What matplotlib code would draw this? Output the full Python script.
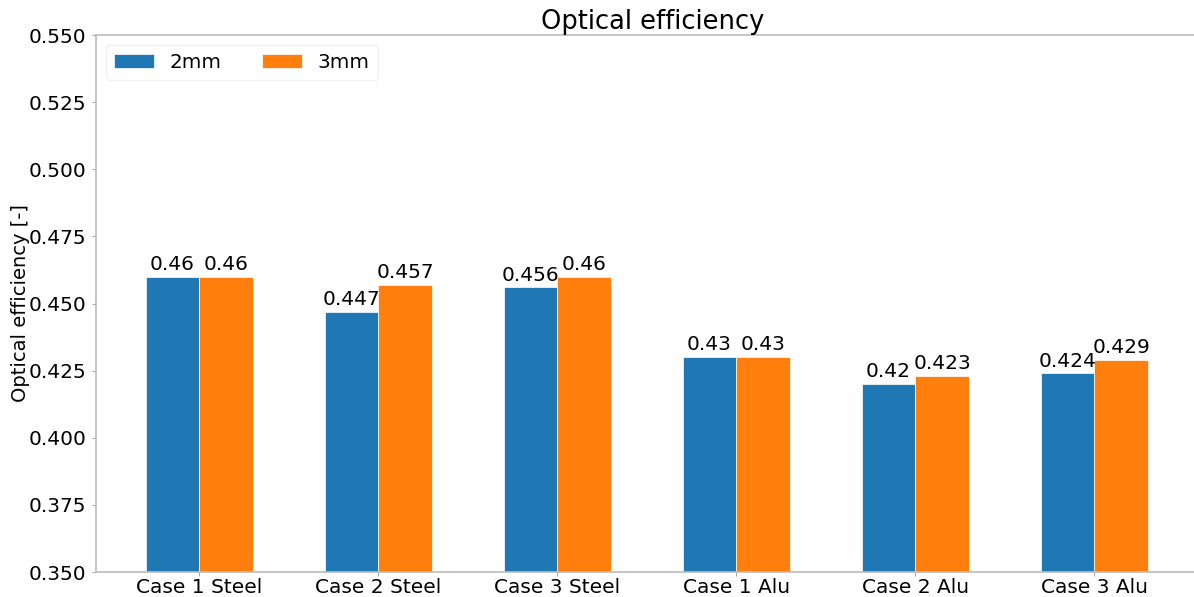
import matplotlib
matplotlib.use("Agg")
import matplotlib.pyplot as plt
import numpy as np

categories = ["Case 1 Steel", "Case 2 Steel", "Case 3 Steel", "Case 1 Alu", "Case 2 Alu", "Case 3 Alu"]
vals_2mm = [0.46, 0.447, 0.456, 0.43, 0.42, 0.424]
vals_3mm = [0.46, 0.457, 0.46, 0.43, 0.423, 0.429]
labels_2mm = ["0.46", "0.447", "0.456", "0.43", "0.42", "0.424"]
labels_3mm = ["0.46", "0.457", "0.46", "0.43", "0.423", "0.429"]
yticks = [0.350, 0.375, 0.400, 0.425, 0.450, 0.475, 0.500, 0.525, 0.550]

fig = plt.figure(figsize=(11.94, 5.97), dpi=100)
ax = fig.add_axes([95.5/1194, 1 - 572/597, (1210 - 95.5)/1194, (572 - 35)/597])

x = np.arange(len(categories))
w = 0.3
b1 = ax.bar(x - w/2, vals_2mm, w, color="#1f77b4", edgecolor="white", linewidth=0.5, label="2mm")
b2 = ax.bar(x + w/2, vals_3mm, w, color="#ff7f0e", edgecolor="white", linewidth=0.5, label="3mm")

for rect, lab in zip(b1, labels_2mm):
    ax.annotate(lab, (rect.get_x() + rect.get_width()/2, rect.get_height()), xytext=(0, 2),
                textcoords="offset points", ha="center", va="bottom", fontsize=14.5)
for rect, lab in zip(b2, labels_3mm):
    ax.annotate(lab, (rect.get_x() + rect.get_width()/2, rect.get_height()), xytext=(0, 2),
                textcoords="offset points", ha="center", va="bottom", fontsize=14.5)

ax.set_ylim(0.35, 0.55)
ax.set_xlim(-0.58, 5.646)
ax.set_yticks(yticks)
ax.set_yticklabels([f"{t:.3f}" for t in yticks])
ax.set_xticks(x)
ax.set_xticklabels(categories)
ax.tick_params(labelsize=14.5, color="#aaaaaa", length=3)
ax.tick_params(axis="x", pad=1.5)
for s in ax.spines.values():
    s.set_color("#bbbbbb")
    s.set_linewidth(1.2)
ax.set_ylabel("Optical efficiency [-]", fontsize=14)
ax.yaxis.set_label_coords(-0.0585, 0.5)
ax.set_title("Optical efficiency", fontsize=18.5, pad=3)
ax.legend(loc="upper left", ncol=2, fontsize=14.4, frameon=True, edgecolor="#eeeeee",
          handlelength=2.0, columnspacing=2.0, borderpad=0.4)

fig.savefig("out.png", dpi=100)
